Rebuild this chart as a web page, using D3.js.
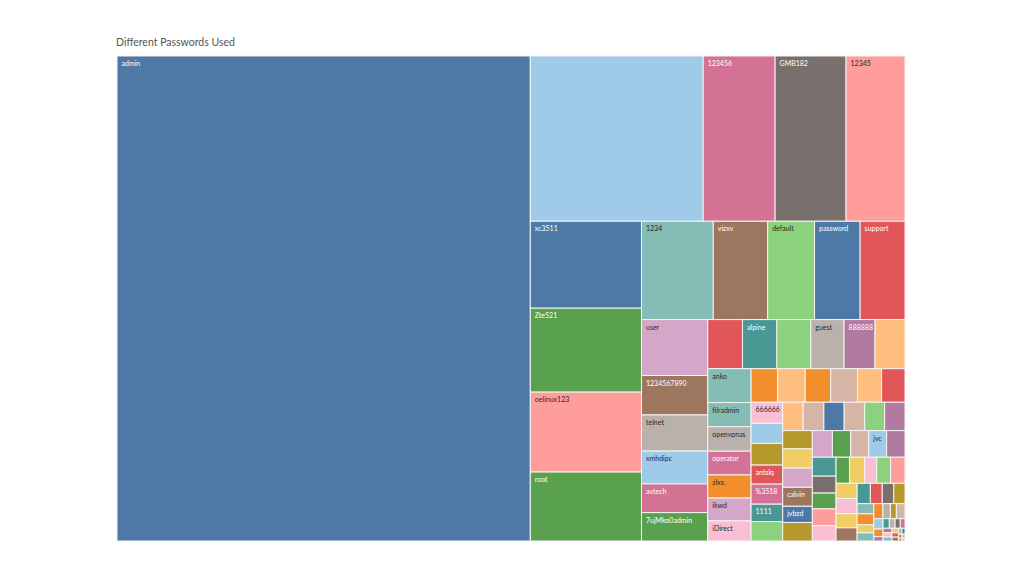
<!DOCTYPE html>
<html>
<head>
<meta charset="utf-8">
<script src="https://cdn.jsdelivr.net/npm/d3@7"></script>
<style>
  html, body { margin: 0; padding: 0; background: #fff; }
  svg { display: block; }
</style>
</head>
<body>
<svg id="chart" width="1024" height="576"></svg>
<script>
// ---- data (unlabeled cells have no visible label) ----
const passwords = [
  "admin", "", "123456", "GMB182", "12345",
  "xc3511", "Zte521", "oelinux123", "root",
  "1234", "vizxv", "default", "password", "support",
  "user", "1234567890", "telnet", "xmhdipc", "avtech", "7ujMko0admin",
  "", "alpine", "", "guest", "888888", "",
  "anko", "filradmin", "openvpnas", "operator", "zlxx.", "ikwd", "iDirect",
  "", "", "", "", "", "",
  "666666", "", "", "antslq", "%3518", "1111", "",
  "", "", "", "", "", "",
  "", "", "", "calvin", "jvbzd", "",
  "", "", "", "jvc", "",
  "", "", "", "", "",
  "", "", "", "", "",
  "", "", "", "",
  "", "", "", "",
  "", "", "", "",
  "", "", "",
  "", "", "", "",
  "", "", "", "", "", "", "", "", "", "", "", "", "", "", "", ""
];
const counts = [
  200305, 28545, 11880, 11715, 9735,
  9657, 9324, 8880, 7659,
  7056, 5341, 4606, 4479, 4410,
  3704, 2613, 2394, 2175, 1900, 1880,
  1705, 1686, 1666, 1632, 1519, 1470,
  1466, 1044, 1060, 1027, 1000, 987, 870,
  896, 923, 853, 900, 809, 785,
  666, 634, 685, 602, 634, 552, 612,
  580, 585, 575, 580, 565, 576,
  540, 570, 570, 561, 480, 549,
  534, 489, 481, 473, 489,
  449, 401, 374, 401, 360,
  350, 395, 316, 360, 376,
  320, 320, 298, 277,
  269, 242, 234, 228,
  170, 182, 136, 136,
  136, 113, 90,
  130, 95, 70, 40,
  60, 55, 50, 45, 40, 38, 35, 30, 28, 25, 20, 18, 15, 12, 10, 8
];

// ---- style ----
const C = {
  blue: "#4E79A7", lblue: "#A0CBE8", orange: "#F28E2B", lorange: "#FFBE7D",
  green: "#59A14F", lgreen: "#8CD17D", olive: "#B6992D", yellow: "#F1CE63",
  teal: "#499894", lteal: "#86BCB6", red: "#E15759", salmon: "#FF9D9A",
  gray: "#79706E", lgray: "#BAB0AC", pink: "#D37295", lpink: "#FABFD2",
  purple: "#B07AA1", lpurple: "#D4A6C8", brown: "#9D7660", tan: "#D7B5A6"
};
const cellColors = [
  C.blue, C.lblue, C.pink, C.gray, C.salmon,
  C.blue, C.green, C.salmon, C.green,
  C.lteal, C.brown, C.lgreen, C.blue, C.red,
  C.lpurple, C.brown, C.lgray, C.lblue, C.pink, C.green,
  C.red, C.teal, C.lgreen, C.lgray, C.purple, C.lorange,
  C.lteal, C.lteal, C.lgray, C.pink, C.orange, C.lpurple, C.lpink,
  C.orange, C.lorange, C.orange, C.tan, C.lorange, C.red,
  C.lpink, C.lblue, C.olive, C.red, C.pink, C.teal, C.lgreen,
  C.lorange, C.tan, C.blue, C.tan, C.lgreen, C.purple,
  C.olive, C.yellow, C.lpurple, C.brown, C.blue, C.olive,
  C.lpurple, C.green, C.tan, C.lblue, C.purple,
  C.teal, C.gray, C.green, C.salmon, C.lpink,
  C.green, C.yellow, C.lpink, C.lgreen, C.salmon,
  C.yellow, C.lpink, C.yellow, C.brown,
  C.teal, C.red, C.gray, C.olive,
  C.lteal, C.orange, C.yellow, C.lteal,
  C.orange, C.lgray, C.olive,
  C.tan, C.lblue, C.orange, C.purple,
  C.teal, C.lgray, C.gray, C.pink, C.purple, C.lpink, C.lteal, C.yellow,
  C.red, C.brown, C.lgreen, C.blue, C.orange, C.tan, C.olive, C.salmon
];

const svg = d3.select("#chart");
const X0 = 117, Y0 = 56, W = 788, H = 485;

svg.append("text")
  .attr("x", 116).attr("y", 46)
  .attr("font-family", "Lato, 'Open Sans', sans-serif")
  .attr("font-size", 10.5)
  .attr("fill", "#555")
  .text("Different Passwords Used");

const data = passwords.map((p, i) => ({ name: p, value: counts[i], color: cellColors[i % cellColors.length] }));
const root = d3.hierarchy({ children: data }).sum(d => d.value || 0);
d3.treemap().tile(d3.treemapSquarify).size([W, H]).round(false)(root);

const g = svg.append("g").attr("transform", `translate(${X0},${Y0})`);
const cell = g.selectAll("g.cell").data(root.leaves()).join("g")
  .attr("class", "cell")
  .attr("transform", d => `translate(${d.x0},${d.y0})`);

cell.append("rect")
  .attr("width", d => Math.max(0, d.x1 - d.x0))
  .attr("height", d => Math.max(0, d.y1 - d.y0))
  .attr("fill", d => d.data.color)
  .attr("stroke", "#f4f4f4")
  .attr("stroke-width", 1);

function textColor(hex) {
  const c = d3.rgb(hex);
  const b = 0.299 * c.r + 0.587 * c.g + 0.114 * c.b;
  return b < 155 ? "#ffffff" : "#2a2a2a";
}

cell.filter(d => d.data.name)
  .append("text")
  .attr("x", 4.5).attr("y", 10)
  .attr("font-family", "Lato, 'Open Sans', sans-serif")
  .attr("font-size", 7)
  .attr("fill", d => textColor(d.data.color))
  .text(d => d.data.name);
</script>
</body>
</html>
